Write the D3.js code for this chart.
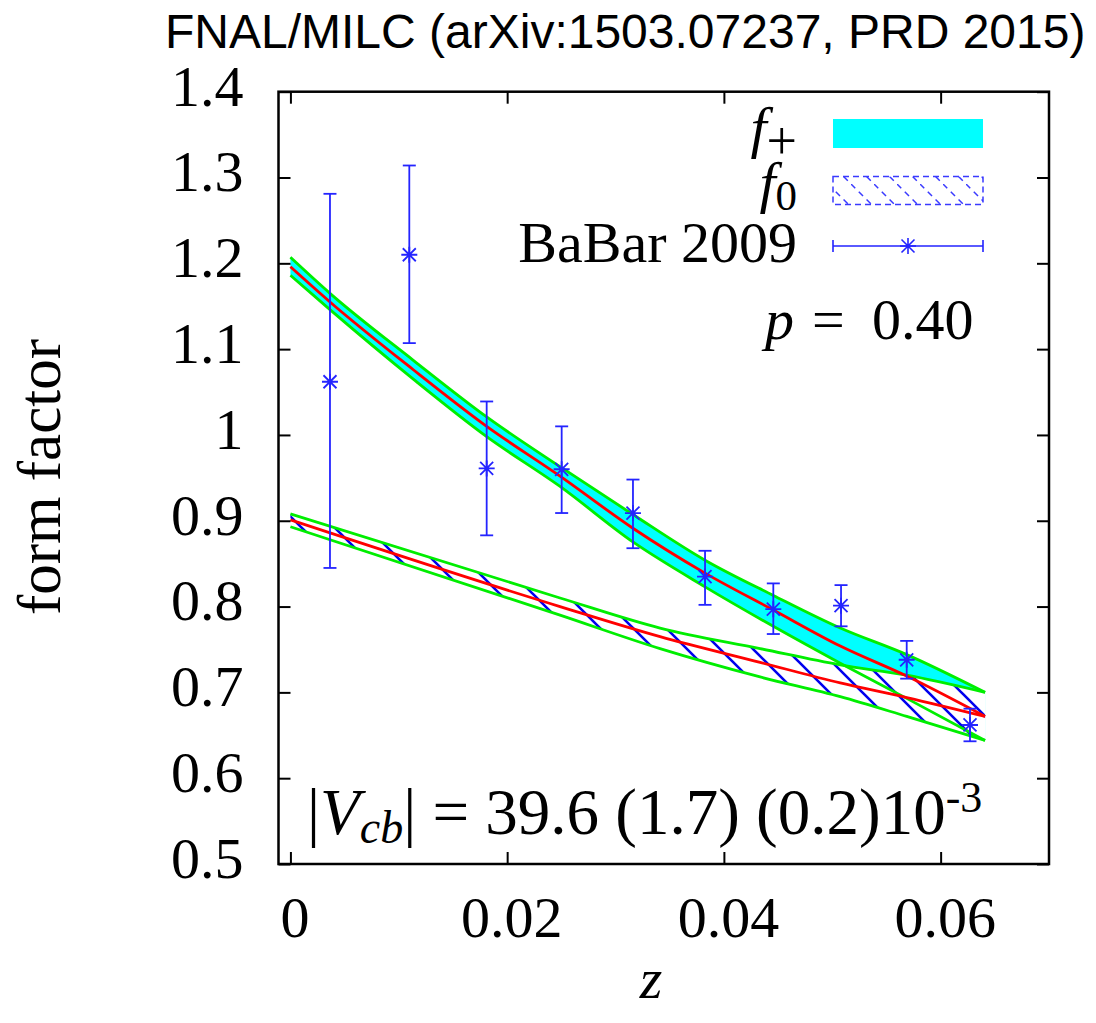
<!DOCTYPE html>
<html>
<head>
<meta charset="utf-8">
<script src="https://cdn.jsdelivr.net/npm/d3@7"></script>
<style>
    body { margin: 0; background: #fff; }
    .serif { font-family: "Liberation Serif", "DejaVu Serif", serif; }
</style>
</head>
<body>
<div id="chart"></div>
<script>
        //-------------------------- data --------------------------
        // f+ band (lattice fit): z, lower edge, central value, upper edge
        var fplusZ   = [0, 0.00365, 0.01134, 0.01811, 0.02488, 0.03164, 0.03826, 0.04456, 0.05074, 0.05687, 0.0641];
        var fplusLo  = [1.186, 1.146, 1.065, 0.998, 0.940, 0.875, 0.823, 0.777, 0.734, 0.693, 0.644];
        var fplusMid = [1.196, 1.155, 1.076, 1.010, 0.952, 0.891, 0.839, 0.796, 0.754, 0.719, 0.672];
        var fplusHi  = [1.207, 1.165, 1.087, 1.021, 0.963, 0.907, 0.854, 0.813, 0.775, 0.744, 0.700];

        // f0 band
        var fzeroZ   = [0, 0.02488, 0.03411, 0.04334, 0.05074, 0.05687, 0.0641];
        var fzeroLo  = [0.893, 0.790, 0.751, 0.718, 0.695, 0.672, 0.644];
        var fzeroMid = [0.901, 0.800, 0.765, 0.735, 0.711, 0.694, 0.672];
        var fzeroHi  = [0.908, 0.810, 0.775, 0.751, 0.732, 0.720, 0.700];

        // BaBar 2009 data points
        var babarZ   = [0.00365, 0.01097, 0.01811, 0.02503, 0.03161, 0.03826, 0.04456, 0.05081, 0.05687, 0.06271];
        var babarVal = [1.062, 1.210, 0.961, 0.960, 0.909, 0.835, 0.797, 0.801, 0.738, 0.662];
        var babarLo  = [0.845, 1.107, 0.883, 0.909, 0.868, 0.802, 0.768, 0.777, 0.716, 0.643];
        var babarHi  = [1.281, 1.314, 1.039, 1.010, 0.948, 0.865, 0.827, 0.825, 0.760, 0.681];

        var xTickValues = [0, 0.02, 0.04, 0.06];
        var xTickLabels = ["0", "0.02", "0.04", "0.06"];
        var yTickValues = [0.5, 0.6, 0.7, 0.8, 0.9, 1.0, 1.1, 1.2, 1.3, 1.4];
        var yTickLabels = ["0.5", "0.6", "0.7", "0.8", "0.9", "1", "1.1", "1.2", "1.3", "1.4"];
        //-------------------------- data end --------------------------

        var W = 1096, H = 1023;
        var plotL = 278.5, plotR = 1049, plotT = 91.7, plotB = 864;
        var fs = 58;

        var svg = d3.select("#chart")
            .append("svg")
            .attr("width", W)
            .attr("height", H);

        var x = d3.scaleLinear().domain([-0.0011, 0.070]).range([plotL, plotR]);
        var y = d3.scaleLinear().domain([0.5, 1.4]).range([plotB, plotT]);

        var defs = svg.append("defs");
        // hatch used inside the plot
        defs.append("pattern")
            .attr("id", "hatch")
            .attr("patternUnits", "userSpaceOnUse")
            .attr("width", 33).attr("height", 33)
            .attr("patternTransform", "translate(5,0)")
            .append("path")
            .attr("d", "M0,0L33,33M-8,25L8,41M25,-8L41,8")
            .attr("stroke", "#0000ee")
            .attr("stroke-width", 2.6)
            .attr("fill", "none");
        // hatch used in the legend key (dashed, lighter)
        defs.append("pattern")
            .attr("id", "hatchKey")
            .attr("patternUnits", "userSpaceOnUse")
            .attr("width", 23).attr("height", 23)
            .append("path")
            .attr("d", "M0,0L23,23M-6,17L6,29M17,-6L29,6")
            .attr("stroke", "#3a3aff")
            .attr("stroke-width", 1.5)
            .attr("stroke-dasharray", "6,5")
            .attr("fill", "none");

        function rows(zs, lo, mid, hi) {
            return zs.map(function (z, i) {
                return { z: z, lo: lo[i], mid: mid[i], hi: hi[i] };
            });
        }
        var fplus = rows(fplusZ, fplusLo, fplusMid, fplusHi);
        var fzero = rows(fzeroZ, fzeroLo, fzeroMid, fzeroHi);
        var babar = rows(babarZ, babarLo, babarVal, babarHi);

        var area = d3.area()
            .x(function (d) { return x(d.z); })
            .y0(function (d) { return y(d.lo); })
            .y1(function (d) { return y(d.hi); })
            .curve(d3.curveMonotoneX);
        function lineOf(key) {
            return d3.line()
                .x(function (d) { return x(d.z); })
                .y(function (d) { return y(d[key]); })
                .curve(d3.curveMonotoneX);
        }

        var plot = svg.append("g");

        // bands: fills first
        plot.append("path").datum(fplus).attr("d", area).attr("fill", "#00ffff");
        plot.append("path").datum(fzero).attr("d", area).attr("fill", "#fff");
        plot.append("path").datum(fzero).attr("d", area).attr("fill", "url(#hatch)");

        // band edges and central curves
        [fplus, fzero].forEach(function (band) {
            ["lo", "hi"].forEach(function (k) {
                plot.append("path").datum(band)
                    .attr("d", lineOf(k))
                    .attr("fill", "none")
                    .attr("stroke", "#00ee00")
                    .attr("stroke-width", 2.8);
            });
        });
        [fplus, fzero].forEach(function (band) {
            plot.append("path").datum(band)
                .attr("d", lineOf("mid"))
                .attr("fill", "none")
                .attr("stroke", "#ff0000")
                .attr("stroke-width", 2.8);
        });

        // error bars
        var blue = "#2424ff";
        var pts = plot.selectAll(".pt")
            .data(babar)
            .join("g")
            .attr("class", "pt")
            .attr("stroke", blue)
            .attr("stroke-width", 1.8)
            .attr("fill", "none");
        pts.append("line")
            .attr("x1", function (d) { return x(d.z); }).attr("x2", function (d) { return x(d.z); })
            .attr("y1", function (d) { return y(d.lo); }).attr("y2", function (d) { return y(d.hi); });
        ["lo", "hi"].forEach(function (k) {
            pts.append("line")
                .attr("x1", function (d) { return x(d.z) - 6.5; }).attr("x2", function (d) { return x(d.z) + 6.5; })
                .attr("y1", function (d) { return y(d[k]); }).attr("y2", function (d) { return y(d[k]); });
        });
        function star(sel, cx, cy) {
            sel.append("path")
                .attr("d", "M" + (cx - 8) + "," + cy + "h16M" + cx + "," + (cy - 8) + "v16" +
                    "M" + (cx - 6.5) + "," + (cy - 6.5) + "l13,13M" + (cx - 6.5) + "," + (cy + 6.5) + "l13,-13");
        }
        pts.each(function (d) { star(d3.select(this), x(d.z), y(d.mid)); });

        // axes (ticks inside, mirrored)
        var axL = svg.append("g")
            .attr("transform", "translate(" + plotL + ",0)")
            .call(d3.axisLeft(y).tickValues(yTickValues).tickSize(-12).tickPadding(35)
                .tickFormat(function (d, i) { return yTickLabels[i]; }));
        axL.selectAll("text").attr("dy", "0.23em");
        var axB = svg.append("g")
            .attr("transform", "translate(0," + plotB + ")")
            .call(d3.axisBottom(x).tickValues(xTickValues).tickSize(-12).tickPadding(32)
                .tickFormat(function (d, i) { return xTickLabels[i]; }));
        axB.selectAll("text").attr("dx", 4);
        svg.append("g").attr("transform", "translate(" + plotR + ",0)")
            .call(d3.axisRight(y).tickValues(yTickValues).tickSize(-12).tickFormat(""));
        svg.append("g").attr("transform", "translate(0," + plotT + ")")
            .call(d3.axisTop(x).tickValues(xTickValues).tickSize(-12).tickFormat(""));
        svg.selectAll(".domain").remove();
        svg.selectAll(".tick line").attr("stroke", "#000").attr("stroke-width", 2);
        svg.selectAll(".tick text").attr("fill", "#000")
            .style("font-size", fs + "px")
            .style("font-family", "'Liberation Serif', 'DejaVu Serif', serif");

        svg.append("rect")
            .attr("x", plotL).attr("y", plotT)
            .attr("width", plotR - plotL).attr("height", plotB - plotT)
            .attr("fill", "none").attr("stroke", "#000").attr("stroke-width", 2.5);

        // title and axis titles
        svg.append("text")
            .attr("x", 165).attr("y", 48)
            .style("font-family", "'Liberation Sans', Arial, sans-serif")
            .style("font-size", "48px")
            .text("FNAL/MILC (arXiv:1503.07237, PRD 2015)");
        svg.append("text")
            .attr("class", "serif")
            .attr("transform", "translate(60,477) rotate(-90)")
            .attr("text-anchor", "middle")
            .style("font-size", "61px")
            .text("form factor");
        svg.append("text")
            .attr("class", "serif")
            .attr("x", 651).attr("y", 998)
            .attr("text-anchor", "middle")
            .style("font-size", fs + "px")
            .style("font-style", "italic")
            .text("z");

        // legend
        var leg = svg.append("g").attr("class", "serif").style("font-size", fs + "px");
        var t1 = leg.append("text").attr("x", 797).attr("y", 147).attr("text-anchor", "end");
        t1.append("tspan").style("font-style", "italic").text("f");
        t1.append("tspan").attr("dy", 12).style("font-size", "54px").text("+");
        leg.append("rect").attr("x", 833).attr("y", 119).attr("width", 150).attr("height", 29).attr("fill", "#00ffff");

        var t2 = leg.append("text").attr("x", 797).attr("y", 202).attr("text-anchor", "end");
        t2.append("tspan").style("font-style", "italic").text("f");
        t2.append("tspan").attr("dy", 8).style("font-size", "43px").text("0");
        leg.append("rect").attr("x", 833).attr("y", 176.5).attr("width", 150).attr("height", 28)
            .attr("fill", "url(#hatchKey)")
            .attr("stroke", "#3a3aff").attr("stroke-width", 1.5).attr("stroke-dasharray", "6,4");

        leg.append("text").attr("x", 797).attr("y", 262).attr("text-anchor", "end").text("BaBar 2009");
        var k3 = leg.append("g").attr("stroke", blue).attr("stroke-width", 1.6).attr("fill", "none");
        k3.append("path").attr("d", "M833,246H983M833,240V252M983,240V252");
        star(k3, 908, 246);

        var tp = leg.append("text").attr("y", 339);
        tp.append("tspan").attr("x", 765).style("font-style", "italic").text("p");
        tp.append("tspan").attr("x", 812).text("=");
        tp.append("tspan").attr("x", 872).text("0.40");

        // |Vcb| annotation
        var tv = svg.append("text").attr("class", "serif")
            .attr("x", 307).attr("y", 834)
            .style("font-size", "65px");
        tv.append("tspan").text("|");
        tv.append("tspan").style("font-style", "italic").text("V");
        tv.append("tspan").attr("dy", 9).style("font-size", "46px").style("font-style", "italic").text("cb");
        tv.append("tspan").attr("dy", -9).text("| = 39.6 (1.7) (0.2)10");
        tv.append("tspan").attr("dy", -22).style("font-size", "44px").text("-3");
</script>
</body>
</html>
